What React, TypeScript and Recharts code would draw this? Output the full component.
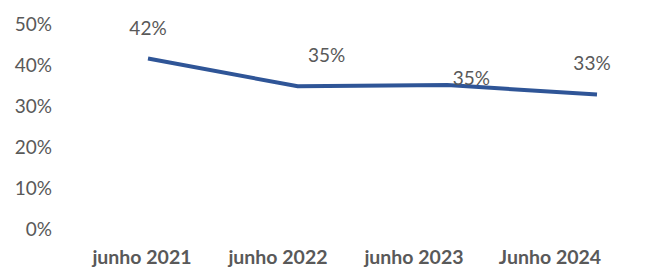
import React from "react";
import { LineChart, Line, XAxis, YAxis, LabelList } from "recharts";

const categories = ["junho 2021", "junho 2022", "junho 2023", "Junho 2024"];
const shareValues = [41.6, 34.8, 35.1, 32.8];
const shareLabels = ["42%", "35%", "35%", "33%"];
const yTicks = [0, 10, 20, 30, 40, 50];

const labelOffsets = [
  [0, -31],
  [29, -32],
  [24, -8],
  [-5, -32],
];

const data = categories.map((c, i) => ({
  label: c,
  value: shareValues[i],
  text: shareLabels[i],
}));

const FONT = "Lato, 'Open Sans', sans-serif";
const GRAY = "#595959";

const PointLabel = (props: any) => {
  const { x, y, index } = props;
  const [dx, dy] = labelOffsets[index] || [0, -30];
  return (
    <text
      x={x + dx}
      y={y + dy}
      textAnchor="middle"
      dominantBaseline="central"
      fill={GRAY}
      fontFamily={FONT}
      fontSize={19}
    >
      {shareLabels[index]}
    </text>
  );
};

export default function App() {
  return (
    <div style={{ position: "absolute", left: 0, top: 0, background: "#fff" }}>
      <LineChart
        width={653}
        height={270}
        data={data}
        margin={{ top: 24, right: 0, bottom: 0, left: 0 }}
      >
        <XAxis
          xAxisId="pts"
          dataKey="label"
          hide
          padding={{ left: 92, right: 56 }}
        />
        <XAxis
          xAxisId="lbl"
          dataKey="label"
          axisLine={false}
          tickLine={false}
          tickSize={0}
          tickMargin={21}
          height={41}
          interval={0}
          padding={{ left: 86, right: 103 }}
          tick={{ fill: GRAY, fontFamily: FONT, fontSize: 19.5, fontWeight: 700 }}
        />
        <YAxis
          domain={[0, 50]}
          ticks={yTicks}
          interval={0}
          width={56}
          axisLine={false}
          tickLine={false}
          tickSize={0}
          tickMargin={4}
          tickFormatter={(v: number) => `${v}%`}
          tick={{ fill: GRAY, fontFamily: FONT, fontSize: 19 }}
        />
        <Line
          xAxisId="pts"
          type="linear"
          dataKey="value"
          stroke="#2F5597"
          strokeWidth={4}
          dot={false}
          isAnimationActive={false}
        >
          <LabelList dataKey="text" content={PointLabel} />
        </Line>
      </LineChart>
    </div>
  );
}
